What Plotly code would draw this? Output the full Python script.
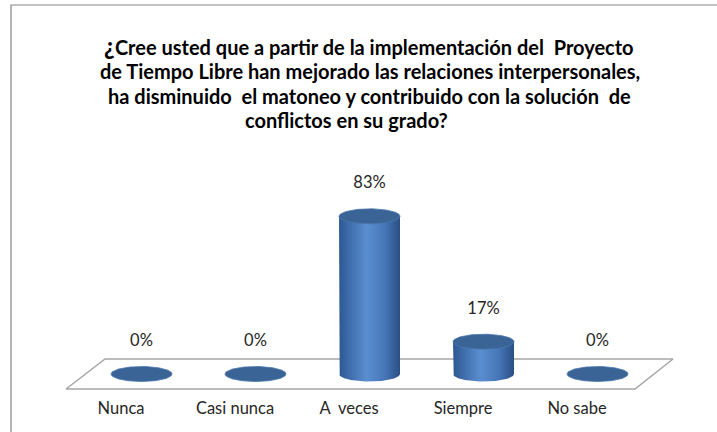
import numpy as np
import plotly.graph_objects as go

# ---------------- data ----------------
categories = ["Nunca", "Casi nunca", "A\u00a0 veces", "Siempre", "No sabe"]
values = [0, 0, 83, 17, 0]
value_labels = ["0%", "0%", "83%", "17%", "0%"]
title_lines = [
    "<span style='font-size:24px'>¿</span>Cree usted que a partir de la implementación del\u00a0 Proyecto",
    "de Tiempo Libre han mejorado las relaciones interpersonales,",
    "ha disminuido\u00a0 el matoneo y contribuido con la solución\u00a0 de",
    "conflictos en su grado?",
]

# ---------------- geometry / style ----------------
W_PX, H_PX = 717, 432
ML, MR, MT, MB = 58, 26, 150, 36
PLOT_W = W_PX - ML - MR
PLOT_H = H_PX - MT - MB
UNIT_X = 114.0          # px per category
UNIT_Y = 1.9            # px per percent
ZERO_PX = 374           # pixel row of the baseline
X0_PX = 121             # pixel of first category
x_lo = -(X0_PX - ML) / UNIT_X
x_hi = x_lo + PLOT_W / UNIT_X
y_lo = -(MT + PLOT_H - ZERO_PX) / UNIT_Y
y_hi = (ZERO_PX - MT) / UNIT_Y

DEPTH_DX = 0.18                 # oblique shift of the bar row (category units)
A = 30.5 / UNIT_X               # cylinder half width
B = 7.5 / UNIT_Y                # ellipse half height
FLOOR_DY = 15 / UNIT_Y
FLOOR_FRONT = (-0.482, 4.509)
FLOOR_BACK = (-0.140, 4.842)
LABEL_OFF = 17

def px2paper_x(px):
    return (px - ML) / PLOT_W

def px2paper_y(py):
    return 1 - (py - MT) / PLOT_H

fig = go.Figure()

# floor
fig.add_trace(go.Scatter(
    x=[FLOOR_FRONT[0], FLOOR_FRONT[1], FLOOR_BACK[1], FLOOR_BACK[0], FLOOR_FRONT[0]],
    y=[-FLOOR_DY, -FLOOR_DY, FLOOR_DY, FLOOR_DY, -FLOOR_DY],
    mode="lines", fill="toself", fillcolor="white",
    line=dict(color="#a6a6a6", width=1.5), hoverinfo="skip"))

t_low = np.linspace(np.pi, 2 * np.pi, 60)
t_full = np.linspace(0, 2 * np.pi, 120)

for i, v in enumerate(values):
    cx = i + DEPTH_DX
    if v > 0:
        xs = [cx - A] + list(cx + A * np.cos(t_low)) + [cx + A, cx - A]
        ys = [v] + list(B * np.sin(t_low)) + [v, v]
        fig.add_trace(go.Scatter(
            x=xs, y=ys, mode="lines", fill="toself",
            line=dict(width=0, color="rgba(0,0,0,0)"),
            fillgradient=dict(type="horizontal", colorscale=[
                [0.0, "#2c5791"], [0.15, "#3d6aa8"], [0.45, "#5a8ed0"],
                [0.75, "#4676b8"], [1.0, "#2a4f82"]]),
            hoverinfo="skip"))
    fig.add_trace(go.Scatter(
        x=cx + A * np.cos(t_full), y=v + B * np.sin(t_full),
        mode="lines", fill="toself", fillcolor="#3a6496",
        line=dict(width=0.8, color="#4a76ad"), hoverinfo="skip"))

# data labels
fig.add_trace(go.Scatter(
    x=[i + DEPTH_DX for i in range(len(values))],
    y=[v + LABEL_OFF for v in values],
    mode="text", text=value_labels, textposition="middle center",
    textfont=dict(family="Lato", size=16.5, color="#262626"),
    hoverinfo="skip", cliponaxis=False))

# title lines
title_y = [46, 71, 96, 120]
title_x = [369, 370, 369, 346]
for txt, tx, ty in zip(title_lines, title_x, title_y):
    fig.add_annotation(x=px2paper_x(tx), y=px2paper_y(ty), xref="paper", yref="paper",
                       text="<b>" + txt + "</b>", showarrow=False,
                       xanchor="center", yanchor="middle",
                       font=dict(family="Lato", size=20, color="black"))

# outer chart border
fig.add_shape(type="rect", xref="paper", yref="paper",
              x0=px2paper_x(11), y0=px2paper_y(5), x1=px2paper_x(740), y1=px2paper_y(460),
              line=dict(color="#868686", width=1.2), fillcolor="rgba(0,0,0,0)")

fig.update_layout(
    width=W_PX, height=H_PX,
    margin=dict(l=ML, r=MR, t=MT, b=MB, pad=0),
    paper_bgcolor="white", plot_bgcolor="white",
    showlegend=False,
    xaxis=dict(range=[x_lo, x_hi], tickvals=list(range(len(categories))),
               ticktext=categories, showgrid=False, zeroline=False, showline=False,
               ticks="", tickfont=dict(family="Lato", size=16.5, color="#262626"),
               fixedrange=True),
    yaxis=dict(range=[y_lo, y_hi], visible=False, fixedrange=True),
)

fig.write_html("out.html", config={"displayModeBar": False},
               post_script="document.body.style.margin='0';")
